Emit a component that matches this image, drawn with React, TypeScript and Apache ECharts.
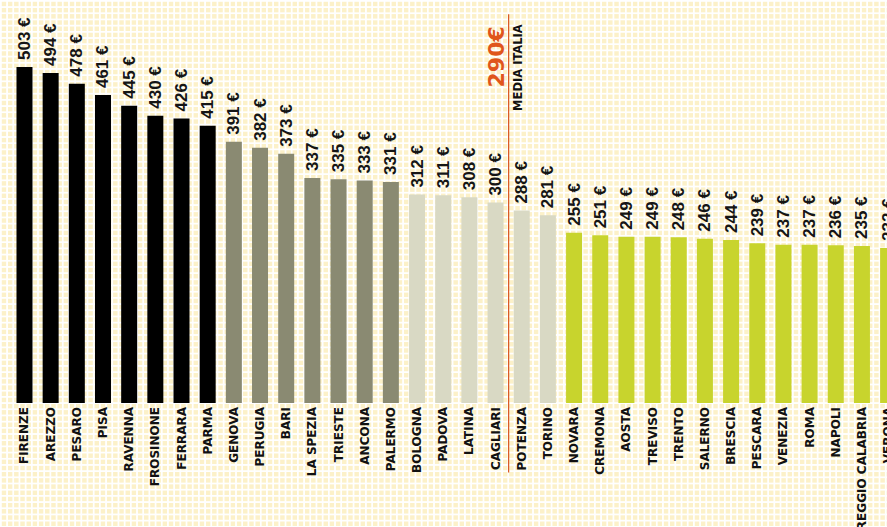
import React, { useEffect, useRef } from "react";
import * as echarts from "echarts";

const categories = [
  "FIRENZE", "AREZZO", "PESARO", "PISA", "RAVENNA", "FROSINONE", "FERRARA", "PARMA",
  "GENOVA", "PERUGIA", "BARI", "LA SPEZIA", "TRIESTE", "ANCONA", "PALERMO",
  "BOLOGNA", "PADOVA", "LATINA", "CAGLIARI", "POTENZA", "TORINO",
  "NOVARA", "CREMONA", "AOSTA", "TREVISO", "TRENTO", "SALERNO", "BRESCIA", "PESCARA",
  "VENEZIA", "ROMA", "NAPOLI", "REGGIO CALABRIA", "VERONA",
];
const values = [
  503, 494, 478, 461, 445, 430, 426, 415,
  391, 382, 373, 337, 335, 333, 331,
  312, 311, 308, 300, 288, 281,
  255, 251, 249, 249, 248, 246, 244, 239, 237, 237, 236, 235, 232,
];
const meanValue = 290;
const meanAfterCategory = "CAGLIARI";
const meanLabel = "MEDIA ITALIA";

// value bands -> colours
const bandLimits = [400, 320, 280];
const bandColors = ["#000000", "#8a8a72", "#d9d9c4", "#c8d42d"];

function colorFor(v: number): string {
  for (let i = 0; i < bandLimits.length; i++) {
    if (v > bandLimits[i]) return bandColors[i];
  }
  return bandColors[bandColors.length - 1];
}

const FONT = "DejaVu Sans";
const VALUE_FONT = "Liberation Sans";

export default function App() {
  const ref = useRef<HTMLDivElement>(null);

  useEffect(() => {
    if (!ref.current) return;
    const chart = echarts.init(ref.current, undefined, { renderer: "svg" });
    chart.setOption({
      animation: false,
      backgroundColor: "transparent",
      grid: {
        left: 11.4,
        width: 889.8,
        top: 2.2,
        bottom: 124,
        outerBoundsMode: "none",
        containLabel: false,
      },
      xAxis: {
        type: "category",
        data: categories,
        axisLine: { show: false },
        axisTick: { show: false },
        axisLabel: {
          interval: 0,
          rotate: 90,
          margin: 4,
          hideOverlap: false,
          fontFamily: FONT,
          fontWeight: "bold",
          fontSize: 12,
          color: "#111",
        },
      },
      yAxis: {
        type: "value",
        min: 0,
        max: 600,
        show: false,
        splitLine: { show: false },
      },
      series: [
        {
          type: "bar",
          barWidth: 16,
          data: values.map((v) => ({ value: v, itemStyle: { color: colorFor(v) } })),
          label: {
            show: true,
            position: "top",
            rotate: 90,
            align: "left",
            verticalAlign: "middle",
            distance: 7,
            formatter: "{c} €",
            fontFamily: VALUE_FONT,
            fontWeight: "bold",
            fontSize: 17,
            color: "#151515",
          },
        },
        {
          type: "custom",
          clip: false,
          silent: true,
          data: [[meanAfterCategory, meanValue]],
          renderItem: (params: any, api: any) => {
            const base = api.coord([api.value(0), 0]);
            const half = api.size([1, 0])[0] / 2;
            const x = base[0] + half;
            const top = api.coord([api.value(0), 582])[1];
            const bottom = api.coord([api.value(0), -104])[1];
            return {
              type: "group",
              children: [
                {
                  type: "line",
                  shape: { x1: x, y1: top, x2: x, y2: bottom },
                  style: { stroke: "#d9541e", lineWidth: 1.2 },
                },
                {
                  type: "text",
                  x: x - 12,
                  y: top + 12,
                  rotation: Math.PI / 2,
                  style: {
                    text: api.value(1) + "€",
                    fill: "#e0561c",
                    font: `bold 22px "${FONT}"`,
                    align: "right",
                    verticalAlign: "middle",
                  },
                },
                {
                  type: "text",
                  x: x + 9,
                  y: top + 10,
                  rotation: Math.PI / 2,
                  style: {
                    text: meanLabel,
                    fill: "#111",
                    font: `bold 11.5px "${FONT}"`,
                    align: "right",
                    verticalAlign: "middle",
                  },
                },
              ],
            };
          },
        },
      ],
    });
    return () => chart.dispose();
  }, []);

  return (
    <div
      style={{
        position: "fixed",
        left: 0,
        top: 0,
        width: 887,
        height: 527,
        overflow: "hidden",
        backgroundColor: "#fcf1c9",
        backgroundImage:
          "linear-gradient(to right, #ffffff 0, #ffffff 1.6px, transparent 1.6px), linear-gradient(to bottom, #ffffff 0, #ffffff 1.6px, transparent 1.6px)",
        backgroundSize: "6.2px 6.2px",
      }}
    >
      <div ref={ref} style={{ width: 887, height: 527 }} />
    </div>
  );
}
